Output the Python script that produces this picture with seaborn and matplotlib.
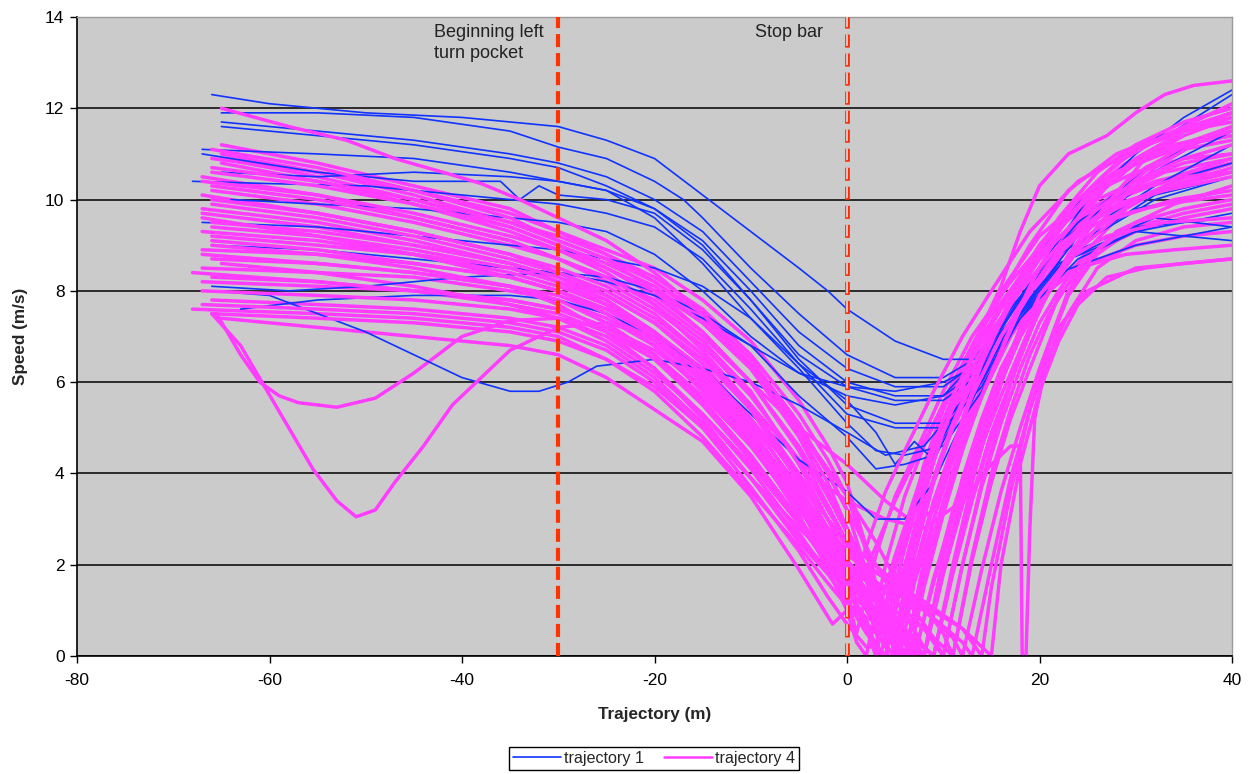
""" Speed profiles along the approach to the stop bar, trajectory 1 vs trajectory 4
"""

import matplotlib
matplotlib.use("Agg")
import matplotlib.pyplot as plt
import pandas as pd
import seaborn as sns
from matplotlib.lines import Line2D

# trajectory 1 vehicles: (position m, speed m/s)
t1_01 = [(-66, 12.3), (-60, 12.1), (-50, 11.9), (-40, 11.8), (-30, 11.6), (-25, 11.3), (-20, 10.9), (-15, 10.1),
         (-10, 9.3), (-5, 8.5), (-2, 8.0), (0, 7.6), (5, 6.9), (10, 6.5), (13, 6.5), (16, 7.2), (20, 8.5),
         (25, 10.0), (30, 11.0), (35, 11.8), (40, 12.4)]
t1_02 = [(-65, 11.9), (-55, 11.9), (-45, 11.8), (-35, 11.5), (-30, 11.15), (-25, 10.9), (-20, 10.4), (-17, 10.0),
         (-15, 9.6), (-10, 8.5), (-5, 7.5), (0, 6.6), (5, 6.1), (10, 6.1), (14, 6.6), (18, 8.0), (22, 9.5),
         (28, 10.8), (34, 11.5), (40, 12.3)]
t1_03 = [(-65, 11.7), (-55, 11.5), (-45, 11.3), (-35, 11.0), (-30, 10.8), (-25, 10.5), (-20, 10.0), (-15, 9.3),
         (-10, 8.2), (-5, 7.1), (0, 6.3), (5, 5.9), (10, 5.9), (14, 6.5), (18, 7.8), (23, 9.2), (30, 10.4),
         (40, 11.5)]
t1_04 = [(-65, 11.6), (-55, 11.4), (-45, 11.2), (-35, 10.9), (-30, 10.7), (-25, 10.3), (-20, 9.8), (-15, 9.1),
         (-10, 8.0), (-5, 6.8), (0, 6.0), (5, 5.7), (10, 5.7), (14, 6.3), (18, 7.6), (24, 9.0), (32, 10.1),
         (40, 10.5)]
t1_05 = [(-67, 11.1), (-55, 11.0), (-45, 10.9), (-35, 10.6), (-30, 10.4), (-25, 10.2), (-20, 9.8), (-15, 9.0),
         (-10, 7.8), (-5, 6.6), (0, 5.9), (5, 5.6), (10, 5.6), (14, 6.2), (18, 7.4), (24, 8.7), (30, 9.3),
         (40, 9.7)]
t1_06 = [(-67, 11.0), (-55, 10.6), (-45, 10.4), (-36, 10.4), (-34, 10.0), (-32, 10.3), (-30, 10.1), (-25, 10.0),
         (-20, 9.7), (-15, 8.9), (-10, 7.8), (-5, 6.5), (0, 5.5), (5, 5.1), (10, 5.1), (14, 6.0), (18, 7.5),
         (24, 9.2), (32, 10.3), (40, 11.2)]
t1_07 = [(-68, 10.4), (-60, 10.35), (-50, 10.3), (-40, 10.1), (-30, 9.9), (-25, 9.7), (-20, 9.4), (-15, 8.7),
         (-10, 7.6), (-5, 6.4), (0, 5.3), (5, 5.0), (10, 5.0), (14, 5.9), (18, 7.4), (24, 8.9), (32, 9.6),
         (40, 9.4)]
t1_08 = [(-67, 9.5), (-55, 9.4), (-45, 9.2), (-35, 9.0), (-30, 8.9), (-25, 8.7), (-20, 8.5), (-15, 8.1),
         (-10, 7.4), (-5, 6.3), (0, 5.1), (3, 4.5), (6, 4.4), (10, 4.6), (14, 5.8), (18, 7.5), (24, 9.0),
         (32, 10.0), (40, 10.5)]
t1_09 = [(-66, 8.1), (-58, 8.0), (-50, 8.1), (-40, 8.3), (-30, 8.4), (-25, 8.3), (-20, 8.0), (-15, 7.5),
         (-10, 6.8), (-5, 5.7), (0, 4.8), (3, 4.1), (6, 4.2), (9, 4.4), (12, 5.6), (16, 7.4), (22, 8.8),
         (30, 9.8), (40, 10.2)]
t1_10 = [(-66, 8.0), (-60, 7.9), (-55, 7.5), (-50, 7.1), (-45, 6.6), (-40, 6.1), (-35, 5.8), (-32, 5.8),
         (-29, 6.0), (-26, 6.35), (-20, 6.5), (-15, 6.3), (-10, 6.0), (-5, 5.5), (0, 4.9), (4, 4.4), (8, 4.6),
         (12, 5.6), (16, 7.1), (22, 8.6), (30, 9.4), (40, 9.6)]
t1_11 = [(-63, 7.6), (-55, 7.8), (-45, 7.9), (-35, 7.9), (-30, 7.8), (-25, 7.5), (-20, 7.0), (-15, 6.3),
         (-10, 5.3), (-5, 4.3), (0, 3.6), (3, 3.0), (6, 3.0), (9, 3.8), (13, 5.6), (17, 7.3), (22, 8.6),
         (30, 9.3), (40, 9.1)]
t1_12 = [(-66, 9.0), (-55, 8.9), (-45, 8.7), (-35, 8.5), (-30, 8.4), (-25, 8.2), (-20, 7.9), (-15, 7.4),
         (-10, 6.8), (-5, 6.2), (0, 5.9), (5, 5.8), (10, 6.0), (13, 6.3), (17, 7.6), (22, 9.0), (30, 10.2),
         (40, 10.8)]
t1_13 = [(-64, 10.0), (-55, 9.9), (-45, 9.8), (-35, 9.6), (-30, 9.5), (-25, 9.3), (-20, 8.8), (-15, 8.0),
         (-10, 7.0), (-5, 6.2), (0, 5.7), (5, 5.5), (10, 5.7), (14, 6.6), (18, 8.0), (24, 9.5), (32, 10.8),
         (40, 11.6)]
t1_14 = [(-65, 10.6), (-55, 10.5), (-45, 10.6), (-35, 10.5), (-30, 10.4), (-25, 10.2), (-20, 9.6), (-15, 8.6),
         (-10, 7.4), (-5, 6.4), (0, 5.6), (3, 4.9), (5, 4.2), (7, 4.7), (9, 4.3), (12, 5.5), (16, 7.0),
         (22, 8.4), (30, 9.0), (40, 9.4)]

# trajectory 4 vehicles
t4_01 = [(-65, 11.2), (-55, 10.8), (-45, 10.3), (-35, 9.8), (-30, 9.3), (-25, 8.9), (-20, 8.5), (-15, 7.8),
         (-10, 6.9), (-5, 5.6), (-2, 4.6), (0, 3.8), (2, 2.4), (4, 0.8), (5, 0), (6, 1.6), (8, 3.5), (10, 5.0),
         (12, 6.2), (14, 7.2), (16, 8.1), (18, 9.3), (20, 10.3), (23, 11.0), (27, 11.4), (30, 11.9), (33, 12.3),
         (36, 12.5), (40, 12.6)]
t4_02 = [(-66, 11.1), (-55, 10.7), (-45, 10.2), (-35, 9.6), (-30, 9.1), (-25, 8.7), (-20, 8.2), (-15, 7.5),
         (-10, 6.5), (-5, 5.1), (-2, 4.0), (0, 3.2), (3, 1.2), (4, 0.3), (6, 2.0), (8, 3.6), (10, 4.9), (13, 6.5),
         (16, 7.6), (18, 8.2), (22, 9.6), (26, 10.6), (30, 11.2), (35, 11.7), (40, 12.0)]
t4_03 = [(-65, 10.9), (-55, 10.5), (-45, 10.0), (-35, 9.4), (-30, 9.0), (-25, 8.5), (-20, 7.9), (-15, 7.1),
         (-10, 6.0), (-5, 4.5), (-2, 3.3), (0, 2.5), (3, 1.2), (5, 0.4), (6, 0), (8, 1.9), (10, 3.4), (12, 4.7),
         (14, 5.8), (16, 6.8), (19, 8.0), (22, 9.1), (26, 10.1), (30, 10.8), (35, 11.4), (40, 11.8)]
t4_04 = [(-66, 10.6), (-55, 10.3), (-45, 9.9), (-35, 9.4), (-30, 9.0), (-25, 8.6), (-20, 8.1), (-15, 7.3),
         (-10, 6.3), (-5, 4.9), (-2, 3.8), (0, 2.8), (2, 1.2), (3, 0.8), (5, 2.2), (8, 4.1), (11, 5.7), (14, 7.0),
         (17, 8.0), (20, 9.0), (24, 10.0), (28, 10.6), (34, 11.1), (40, 11.5)]
t4_05 = [(-67, 10.5), (-55, 10.1), (-45, 9.6), (-35, 9.1), (-30, 8.7), (-25, 8.2), (-20, 7.6), (-15, 6.8),
         (-10, 5.7), (-5, 4.3), (-2, 3.2), (0, 2.5), (3, 1.4), (6, 0.6), (8, 0), (10, 1.9), (12, 3.6), (14, 5.0),
         (16, 6.1), (18, 7.2), (20, 8.0), (23, 9.2), (27, 10.3), (31, 11.0), (35, 11.5), (40, 11.9)]
t4_06 = [(-66, 10.3), (-55, 10.0), (-45, 9.6), (-35, 9.1), (-30, 8.7), (-25, 8.3), (-20, 7.7), (-15, 6.9),
         (-10, 5.8), (-5, 4.2), (-2, 3.0), (0, 2.1), (2, 1.0), (4, 0.2), (5, 0), (7, 1.8), (9, 3.3), (11, 4.6),
         (13, 5.7), (16, 7.0), (19, 8.0), (22, 8.9), (26, 9.8), (30, 10.4), (35, 10.9), (40, 11.2)]
t4_07 = [(-67, 10.1), (-55, 9.7), (-45, 9.3), (-35, 8.8), (-30, 8.4), (-25, 7.9), (-20, 7.3), (-15, 6.4),
         (-10, 5.2), (-5, 3.6), (-2, 2.3), (0, 1.3), (1, 0.5), (3, 2.2), (5, 3.5), (7, 4.4), (10, 5.8), (13, 7.0),
         (17, 8.2), (21, 9.2), (25, 9.9), (30, 10.4), (35, 10.8), (40, 11.0)]
t4_08 = [(-66, 9.9), (-55, 9.6), (-45, 9.2), (-35, 8.7), (-30, 8.4), (-25, 8.0), (-20, 7.4), (-15, 6.6),
         (-10, 5.5), (-5, 4.0), (-2, 3.0), (0, 2.4), (3, 1.5), (6, 0.5), (7, 0), (9, 1.6), (11, 3.2), (13, 4.5),
         (15, 5.6), (18, 7.0), (21, 8.0), (24, 8.9), (28, 9.9), (32, 10.7), (36, 11.2), (40, 11.6)]
t4_09 = [(-67, 9.7), (-55, 9.4), (-45, 9.0), (-35, 8.6), (-30, 8.3), (-25, 7.8), (-20, 7.1), (-15, 6.1),
         (-10, 4.9), (-5, 3.4), (-2, 2.5), (0, 2.0), (4, 1.4), (8, 0.6), (10, 0), (12, 2.0), (14, 3.7), (16, 5.1),
         (18, 6.3), (20, 7.3), (22, 8.0), (25, 8.9), (29, 9.8), (34, 10.4), (40, 10.8)]
t4_10 = [(-66, 9.5), (-55, 9.3), (-45, 9.0), (-35, 8.6), (-30, 8.3), (-25, 7.9), (-20, 7.3), (-15, 6.5),
         (-10, 5.4), (-5, 3.8), (-2, 2.5), (0, 1.5), (2, 0.6), (3, 0), (5, 1.9), (7, 3.3), (9, 4.5), (12, 5.9),
         (15, 7.1), (18, 8.0), (22, 9.0), (27, 9.8), (33, 10.2), (40, 10.5)]
t4_11 = [(-67, 9.3), (-55, 9.1), (-45, 8.8), (-35, 8.5), (-30, 8.2), (-25, 7.8), (-20, 7.1), (-15, 6.2),
         (-10, 5.0), (-5, 3.4), (-2, 2.2), (0, 1.5), (3, 0.8), (5, 0.3), (6, 0), (8, 1.8), (10, 3.3), (12, 4.6),
         (14, 5.7), (17, 7.0), (20, 8.0), (23, 9.0), (27, 10.0), (31, 10.7), (35, 11.1), (40, 11.3)]
t4_12 = [(-66, 9.1), (-55, 8.9), (-45, 8.6), (-35, 8.3), (-30, 8.0), (-25, 7.5), (-20, 6.8), (-15, 5.8),
         (-10, 4.6), (-5, 3.2), (-2, 2.4), (0, 2.0), (4, 1.5), (8, 1.0), (11, 0.4), (12, 0), (14, 1.9), (16, 3.6),
         (18, 5.0), (20, 6.3), (23, 8.0), (26, 8.9), (30, 9.5), (35, 9.8), (40, 10.0)]
t4_13 = [(-67, 8.9), (-55, 8.8), (-45, 8.6), (-35, 8.3), (-30, 8.0), (-25, 7.6), (-20, 7.0), (-15, 6.1),
         (-10, 4.9), (-5, 3.3), (-2, 2.1), (0, 1.2), (2, 0.5), (4, 0), (6, 1.9), (8, 3.3), (10, 4.5), (13, 5.9),
         (16, 7.2), (19, 8.1), (23, 9.3), (28, 10.1), (33, 10.6), (40, 10.9)]
t4_14 = [(-66, 8.7), (-55, 8.6), (-45, 8.4), (-35, 8.1), (-30, 7.8), (-25, 7.3), (-20, 6.6), (-15, 5.6),
         (-10, 4.4), (-5, 3.0), (-2, 2.2), (0, 1.7), (4, 1.0), (7, 0.4), (9, 0), (11, 1.8), (13, 3.4), (15, 4.8),
         (17, 6.0), (19, 7.1), (21, 8.0), (24, 8.9), (28, 9.6), (34, 10.0), (40, 10.2)]
t4_15 = [(-67, 8.5), (-55, 8.4), (-45, 8.3), (-35, 8.0), (-30, 7.8), (-25, 7.4), (-20, 6.8), (-15, 5.9),
         (-10, 4.7), (-5, 3.1), (-2, 1.9), (0, 1.0), (1, 0.3), (2, 0), (4, 2.0), (6, 3.5), (8, 4.6), (11, 6.0),
         (14, 7.2), (18, 8.3), (22, 9.4), (26, 10.3), (31, 10.9), (35, 11.2), (40, 11.4)]
t4_16 = [(-68, 8.4), (-55, 8.2), (-45, 8.0), (-35, 7.8), (-30, 7.6), (-25, 7.2), (-20, 6.5), (-15, 5.5),
         (-10, 4.3), (-5, 2.9), (-2, 2.0), (0, 1.4), (3, 0.9), (6, 0.3), (7, 0), (9, 1.7), (11, 3.1), (13, 4.4),
         (15, 5.5), (18, 7.0), (20, 7.9), (23, 8.7), (27, 9.2), (33, 9.5), (40, 9.6)]
t4_17 = [(-66, 8.3), (-55, 8.2), (-45, 8.0), (-35, 7.8), (-30, 7.6), (-25, 7.2), (-20, 6.6), (-15, 5.7),
         (-10, 4.6), (-5, 3.3), (-2, 2.6), (0, 2.2), (4, 1.7), (8, 1.2), (12, 0.6), (14, 0), (15, 1.5), (17, 3.6),
         (19, 5.4), (21, 6.8), (23, 7.9), (26, 8.8), (30, 9.4), (35, 9.7), (40, 9.9)]
t4_18 = [(-67, 8.0), (-55, 7.9), (-45, 7.8), (-35, 7.6), (-30, 7.4), (-25, 7.0), (-20, 6.3), (-15, 5.3),
         (-10, 4.1), (-5, 2.7), (-2, 1.8), (0, 1.2), (3, 0.5), (5, 0), (7, 1.9), (9, 3.4), (11, 4.6), (13, 5.7),
         (16, 7.0), (19, 8.0), (23, 9.1), (28, 9.9), (34, 10.3), (40, 10.6)]
t4_19 = [(-66, 7.8), (-55, 7.7), (-45, 7.6), (-35, 7.4), (-30, 7.2), (-25, 6.8), (-20, 6.1), (-15, 5.1),
         (-10, 3.9), (-5, 2.6), (-2, 1.9), (0, 1.5), (4, 1.1), (8, 0.6), (10, 0.2), (11, 0), (13, 2.1), (15, 3.8),
         (17, 5.2), (19, 6.3), (22, 7.9), (25, 8.6), (30, 9.0), (35, 9.2), (40, 9.3)]
t4_20 = [(-67, 7.7), (-55, 7.6), (-45, 7.5), (-35, 7.3), (-30, 7.1), (-25, 6.7), (-20, 6.0), (-15, 5.0),
         (-10, 3.7), (-5, 2.3), (-2, 1.3), (0, 0.7), (2, 0.2), (3, 0.2), (5, 2.0), (7, 3.4), (9, 4.5), (12, 5.9),
         (15, 7.1), (18, 8.0), (22, 9.0), (27, 9.6), (33, 9.9), (40, 10.1)]
t4_21 = [(-68, 7.6), (-55, 7.5), (-45, 7.4), (-35, 7.2), (-30, 7.0), (-25, 6.5), (-20, 5.8), (-15, 4.8),
         (-10, 3.6), (-5, 2.4), (-2, 1.6), (0, 1.1), (4, 0.6), (7, 0.1), (8, 0), (10, 1.8), (12, 3.3), (14, 4.6),
         (16, 5.7), (19, 7.2), (21, 8.0), (24, 8.5), (29, 8.8), (34, 8.9), (40, 9.0)]
t4_22 = [(-66, 7.5), (-55, 7.4), (-45, 7.3), (-35, 7.1), (-30, 6.9), (-25, 6.5), (-20, 5.9), (-15, 5.0),
         (-10, 3.9), (-5, 2.8), (-2, 2.2), (0, 1.9), (4, 1.5), (8, 1.1), (12, 0.6), (15, 0), (16, 2.0), (18, 4.2),
         (20, 5.8), (22, 6.9), (24, 7.7), (27, 8.3), (31, 8.5), (35, 8.6), (40, 8.7)]
t4_23 = [(-65, 7.4), (-55, 7.2), (-45, 7.0), (-35, 6.8), (-30, 6.6), (-25, 6.1), (-20, 5.4), (-15, 4.7),
         (-10, 3.5), (-5, 1.9), (-1.5, 0.7), (0, 1.0), (2, 1.9), (5, 3.4), (8, 4.7), (11, 5.9), (14, 7.1),
         (16, 8.0), (20, 9.2), (25, 10.1), (30, 10.6), (35, 10.9), (40, 11.0)]
t4_24 = [(-66, 7.5), (-63, 6.8), (-60.5, 5.9), (-58, 5.0), (-55.5, 4.1), (-53, 3.4), (-51, 3.05), (-49, 3.2),
         (-47, 3.8), (-44, 4.6), (-41, 5.5), (-38, 6.1), (-35, 6.7), (-30, 7.2), (-25, 7.3), (-20, 7.0),
         (-15, 6.2), (-10, 5.0), (-5, 3.5), (-2, 2.4), (0, 1.8), (3, 1.0), (5, 0.3), (6, 0), (8, 1.7), (10, 3.3),
         (12, 4.6), (15, 6.2), (18, 7.6), (21, 8.6), (26, 9.6), (32, 10.2), (40, 10.7)]
t4_25 = [(-65.5, 7.5), (-63, 6.6), (-61, 6.0), (-59, 5.7), (-57, 5.55), (-53, 5.45), (-49, 5.65), (-45, 6.2),
         (-40, 7.0), (-35, 7.35), (-30, 7.4), (-25, 7.2), (-20, 6.7), (-15, 5.9), (-10, 4.8), (-5, 3.5),
         (-2, 2.6), (0, 2.1), (3, 1.4), (6, 0.6), (8, 0), (10, 1.8), (12, 3.4), (14, 4.8), (16, 6.0), (18, 7.0),
         (21, 8.1), (25, 9.2), (30, 10.0), (35, 10.5), (40, 10.8)]
t4_26 = [(-65, 12.0), (-58, 11.6), (-52, 11.3), (-47, 10.9), (-42, 10.6), (-38, 10.35), (-34, 10.0), (-30, 9.6),
         (-25, 9.1), (-20, 8.4), (-15, 7.5), (-10, 6.3), (-5, 4.8), (-2, 3.6), (0, 2.8), (3, 1.5), (5, 0.6),
         (6, 0), (8, 2.1), (10, 3.8), (12, 5.2), (14, 6.4), (17, 7.8), (20, 8.9), (24, 10.0), (28, 10.8),
         (33, 11.4), (40, 11.9)]
t4_27 = [(-65, 10.8), (-55, 10.4), (-45, 9.9), (-35, 9.3), (-30, 8.9), (-25, 8.4), (-20, 7.7), (-15, 6.7),
         (-10, 5.5), (-5, 4.3), (-2, 3.7), (0, 3.4), (4, 3.0), (8, 2.8), (12, 3.4), (15, 4.2), (17, 4.6),
         (18, 4.6), (18.2, 0), (18.6, 0), (19, 2.8), (19.5, 5.2), (20.5, 6.2), (22, 7.2), (25, 8.0), (30, 8.5),
         (35, 8.6), (40, 8.7)]
t4_28 = [(-66, 9.0), (-55, 8.8), (-45, 8.5), (-35, 8.1), (-30, 7.7), (-25, 7.1), (-20, 6.3), (-15, 5.2),
         (-10, 3.9), (-5, 2.5), (-2, 1.8), (0.5, 1.5), (2, 2.4), (4, 3.6), (6, 4.5), (9, 5.8), (12, 7.0),
         (15, 8.0), (19, 9.3), (24, 10.4), (30, 11.1), (35, 11.5), (40, 11.7)]
t4_29 = [(-67, 8.8), (-55, 8.6), (-45, 8.4), (-35, 8.1), (-30, 7.9), (-25, 7.5), (-20, 6.9), (-15, 6.0),
         (-10, 4.9), (-5, 3.6), (-2, 2.8), (0, 2.3), (4, 1.7), (8, 1.0), (12, 0.3), (13, 0), (15, 2.0), (17, 3.9),
         (19, 5.4), (21, 6.6), (23, 7.5), (26, 8.5), (30, 9.1), (35, 9.4), (40, 9.5)]
t4_30 = [(-66, 10.0), (-55, 9.7), (-45, 9.3), (-35, 8.8), (-30, 8.5), (-25, 8.1), (-20, 7.5), (-15, 6.6),
         (-10, 5.4), (-5, 3.9), (-2, 2.8), (0, 2.0), (3, 1.2), (6, 0.5), (9, 0), (11, 1.9), (13, 3.5), (15, 4.9),
         (17, 6.0), (20, 7.6), (23, 8.7), (27, 9.9), (31, 10.9), (35, 11.5), (40, 11.9)]
t4_31 = [(-65, 11.0), (-55, 10.6), (-45, 10.1), (-35, 9.5), (-30, 9.2), (-25, 8.8), (-20, 8.3), (-15, 7.6),
         (-10, 6.6), (-5, 5.3), (-2, 4.3), (0, 3.5), (2, 2.3), (3, 1.5), (3.2, 0), (4, 0), (6, 2.5), (8, 4.2),
         (10, 5.4), (13, 6.8), (16, 7.9), (19, 9.0), (23, 10.2), (28, 11.0), (34, 11.5), (40, 11.9)]
t4_32 = [(-67, 9.6), (-55, 9.2), (-45, 8.8), (-35, 8.3), (-30, 8.0), (-25, 7.6), (-20, 7.0), (-15, 6.0),
         (-10, 4.8), (-5, 3.3), (-2, 2.3), (0, 1.7), (2, 1.1), (4, 0.5), (4.2, 0), (5, 0), (7, 2.2), (9, 3.8),
         (11, 5.0), (14, 6.5), (17, 7.7), (20, 8.7), (24, 9.6), (30, 10.2), (35, 10.5), (40, 10.6)]
t4_33 = [(-66, 10.2), (-55, 9.9), (-45, 9.5), (-35, 9.0), (-30, 8.7), (-25, 8.3), (-20, 7.8), (-15, 7.0),
         (-10, 6.0), (-5, 5.0), (0, 4.2), (4, 3.4), (7, 2.9), (9, 3.2), (11, 4.3), (13, 5.6), (15, 6.8),
         (17, 7.9), (20, 9.0), (24, 10.0), (29, 10.8), (34, 11.2), (40, 11.4)]
t4_34 = [(-66, 10.7), (-55, 10.4), (-45, 10.0), (-35, 9.5), (-30, 9.1), (-25, 8.7), (-20, 8.0), (-15, 7.1),
         (-10, 6.0), (-5, 4.6), (-2, 3.5), (0, 2.7), (3, 1.3), (6, 0.3), (6.5, 0), (8, 1.5), (10, 3.1), (12, 4.5),
         (14, 5.7), (17, 7.2), (19, 8.1), (22, 9.3), (26, 10.4), (30, 11.1), (35, 11.6), (40, 12.1)]
t4_35 = [(-67, 9.8), (-55, 9.5), (-45, 9.1), (-35, 8.6), (-30, 8.2), (-25, 7.7), (-20, 7.0), (-15, 6.2),
         (-10, 5.1), (-5, 3.7), (-2, 2.7), (0, 2.0), (3, 1.0), (5, 0.2), (5.5, 0), (7, 1.6), (9, 3.0), (11, 4.3),
         (13, 5.4), (16, 6.9), (19, 8.1), (23, 9.2), (28, 10.0), (34, 10.5), (40, 10.9)]
t4_36 = [(-66, 9.2), (-55, 9.0), (-45, 8.8), (-35, 8.4), (-30, 8.1), (-25, 7.7), (-20, 7.1), (-15, 6.3),
         (-10, 5.2), (-5, 3.9), (-2, 3.0), (0, 2.5), (4, 1.8), (8, 1.1), (10, 0.5), (11, 0), (13, 2.2), (15, 4.0),
         (17, 5.4), (19, 6.6), (21, 7.5), (24, 8.5), (28, 9.3), (34, 9.9), (40, 10.3)]
t4_37 = [(-65, 8.6), (-55, 8.4), (-45, 8.1), (-35, 7.7), (-30, 7.4), (-25, 6.9), (-20, 6.2), (-15, 5.3),
         (-10, 4.2), (-5, 2.9), (-2, 2.1), (0, 1.5), (2, 0.8), (3, 0.2), (3.5, 0), (5, 1.6), (7, 3.1), (9, 4.3),
         (11, 5.3), (14, 6.6), (17, 7.8), (21, 9.0), (26, 9.9), (32, 10.4), (40, 10.8)]
t4_38 = [(-67, 10.4), (-55, 10.1), (-45, 9.7), (-35, 9.2), (-30, 8.9), (-25, 8.5), (-20, 8.0), (-15, 7.3),
         (-10, 6.3), (-5, 5.0), (-2, 4.1), (0, 3.5), (3, 2.5), (6, 1.3), (9, 0.4), (10, 0), (12, 2.0), (14, 3.8),
         (16, 5.3), (18, 6.6), (20, 7.6), (23, 8.8), (27, 9.9), (32, 10.8), (36, 11.3), (40, 11.6)]
t4_39 = [(-67, 8.2), (-55, 8.1), (-45, 8.0), (-35, 7.7), (-30, 7.5), (-25, 7.1), (-20, 6.5), (-15, 5.6),
         (-10, 4.4), (-5, 3.0), (-2, 2.1), (0, 1.6), (3, 1.0), (6, 0.4), (8, 0), (10, 2.2), (12, 3.9), (14, 5.2),
         (16, 6.3), (18, 7.1), (21, 8.0), (25, 8.8), (30, 9.3), (35, 9.6), (40, 9.8)]
t4_40 = [(-66, 9.4), (-55, 9.2), (-45, 8.9), (-35, 8.5), (-30, 8.2), (-25, 7.7), (-20, 7.0), (-15, 6.0),
         (-10, 4.8), (-5, 3.4), (-2, 2.5), (0, 1.9), (2, 1.2), (4, 0.5), (5, 0.5), (7, 2.4), (9, 3.9), (11, 5.1),
         (13, 6.1), (16, 7.4), (19, 8.5), (23, 9.6), (28, 10.6), (34, 11.2), (40, 11.5)]
t4_41 = [(-66, 10.9), (-55, 10.6), (-45, 10.2), (-35, 9.7), (-30, 9.3), (-25, 8.8), (-20, 8.2), (-15, 7.4),
         (-10, 6.4), (-5, 5.0), (-2, 4.0), (0, 3.2), (3, 2.0), (6, 0.9), (8, 0.2), (9, 0), (11, 2.0), (13, 3.8),
         (15, 5.3), (17, 6.6), (19, 7.7), (21, 8.6), (25, 9.9), (30, 10.9), (35, 11.5), (40, 11.8)]

traj1 = [t1_01, t1_02, t1_03, t1_04, t1_05, t1_06, t1_07, t1_08, t1_09, t1_10, t1_11, t1_12, t1_13, t1_14]
traj4 = [t4_01, t4_02, t4_03, t4_04, t4_05, t4_06, t4_07, t4_08, t4_09, t4_10, t4_11, t4_12, t4_13, t4_14,
         t4_15, t4_16, t4_17, t4_18, t4_19, t4_20, t4_21, t4_22, t4_23, t4_24, t4_25, t4_26, t4_27, t4_28,
         t4_29, t4_30, t4_31, t4_32, t4_33, t4_34, t4_35, t4_36, t4_37, t4_38, t4_39, t4_40, t4_41]

pocket_start = -30
stop_bar = 0

BLUE = '#1033ff'
PINK = '#ff3cff'
RED = '#ff3300'


def to_frame(tracks, name):
    """ long table, one row per point, unit = vehicle """
    rows = []
    for i, track in enumerate(tracks):
        for pos, speed in track:
            rows.append((name, f"{name}#{i}", pos, speed))
    return pd.DataFrame(rows, columns=['series', 'vehicle', 'position', 'speed'])


sns.set_theme(style='white')
plt.rcParams['font.family'] = ['Liberation Sans', 'DejaVu Sans']
plt.rcParams['lines.scale_dashes'] = False
plt.rcParams['axes.unicode_minus'] = False

df1 = to_frame(traj1, 'trajectory 1')
df4 = to_frame(traj4, 'trajectory 4')

fig = plt.figure(figsize=(12.49, 7.74), dpi=100)
ax = fig.add_axes([77 / 1249, 1 - 656 / 774, (1232 - 77) / 1249, (656 - 17) / 774])
ax.set_facecolor('#cbcbcb')

# interleave the two groups a bit so neither is fully hidden
half = df4['vehicle'].isin([f"trajectory 4#{i}" for i in range(0, len(traj4), 2)])
sns.lineplot(data=df4[half], x='position', y='speed', units='vehicle', estimator=None, sort=False,
             color=PINK, lw=2.5, ax=ax, legend=False)
sns.lineplot(data=df1, x='position', y='speed', units='vehicle', estimator=None, sort=False,
             color=BLUE, lw=1.2, ax=ax, legend=False)
sns.lineplot(data=df4[~half], x='position', y='speed', units='vehicle', estimator=None, sort=False,
             color=PINK, lw=2.5, ax=ax, legend=False)

# reference lines
ax.axvline(pocket_start, color=RED, lw=3.0, ls=(0, (9.4, 4.3)), zorder=5)
ax.axvline(stop_bar, color='#ff2a00', lw=3.4, ls=(0, (9.4, 4.3)), zorder=5)
ax.axvline(stop_bar, color='#d8d2d0', lw=1.3, ls=(12.9, (8.4, 5.3)), zorder=6)

ax.text(-42.9, 13.85, 'Beginning left\nturn pocket', ha='left', va='top', fontsize=13,
        linespacing=1.3, color='#222222')
ax.text(-9.6, 13.85, 'Stop bar', ha='left', va='top', fontsize=13, color='#222222')

ax.set_xlim(-80, 40)
ax.set_ylim(0, 14)
ax.set_xticks(range(-80, 41, 20))
ax.set_yticks(range(0, 15, 2))
ax.set_axisbelow(True)
ax.yaxis.grid(True, color='black', lw=1.1)
ax.xaxis.grid(False)
ax.tick_params(axis='both', direction='out', length=5, width=1, color='black', labelsize=12.5,
               labelcolor='black', left=True, bottom=True, pad=4)
ax.tick_params(axis='x', pad=7)
for side in ['left', 'bottom']:
    ax.spines[side].set_color('black')
    ax.spines[side].set_linewidth(1.2)
for side in ['top', 'right']:
    ax.spines[side].set_color('#9a9a9a')
    ax.spines[side].set_linewidth(1.0)

ax.set_xlabel('Trajectory (m)', fontsize=12.3, fontweight='bold', labelpad=14)
ax.set_ylabel('Speed (m/s)', fontsize=12.3, fontweight='bold', labelpad=12)

handles = [Line2D([], [], color=BLUE, lw=1.2), Line2D([], [], color=PINK, lw=1.8)]
fig.legend(handles, ['trajectory 1', 'trajectory 4'], loc='upper center', ncol=2,
           bbox_to_anchor=(654 / 1249, 1 - 747 / 774), frameon=True, fancybox=False,
           edgecolor='black', framealpha=1, fontsize=11.6, handlelength=3.0, columnspacing=1.2,
           borderpad=0.25, handletextpad=0.2, borderaxespad=0)

fig.savefig('out.png', dpi=100)
